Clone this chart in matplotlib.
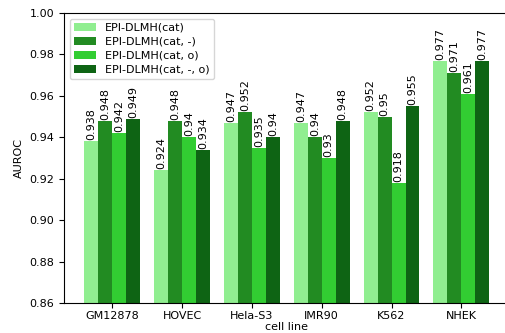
import numpy as np
import matplotlib
matplotlib.use("Agg")
import matplotlib.pyplot as plt

cell_lines = ["GM12878", "HOVEC", "Hela-S3", "IMR90", "K562", "NHEK"]
labels = ["EPI-DLMH(cat)", "EPI-DLMH(cat, -)", "EPI-DLMH(cat, o)", "EPI-DLMH(cat, -, o)"]
cat = [0.938, 0.924, 0.947, 0.947, 0.952, 0.977]
cat_minus = [0.948, 0.948, 0.952, 0.94, 0.95, 0.971]
cat_o = [0.942, 0.94, 0.935, 0.93, 0.918, 0.961]
cat_minus_o = [0.949, 0.934, 0.94, 0.948, 0.955, 0.977]
colors = ["#90ee90", "#228b22", "#32cd32", "#0e6414"]

series = [cat, cat_minus, cat_o, cat_minus_o]

fig = plt.figure(figsize=(5.05, 3.33), dpi=100)
ax = fig.add_axes([0.127, 0.09, 0.882, 0.871])

x = np.arange(len(cell_lines))
width = 0.2
for i in range(len(series)):
    bars = ax.bar(x + (i - 1.5) * width, series[i], width, color=colors[i],
                  label=labels[i])
    for b, v in zip(bars, series[i]):
        ax.text(b.get_x() + b.get_width() / 2, v + 0.0005, str(v),
                rotation=90, ha="center", va="bottom", fontsize=8)

ax.set_ylim(0.86, 1.0)
ax.set_yticks(np.arange(0.86, 1.001, 0.02))
ax.set_xticks(x)
ax.set_xticklabels(cell_lines)
ax.tick_params(labelsize=8)
ax.tick_params(axis="x", pad=2)
ax.spines["right"].set_visible(False)
ax.set_xlabel("cell line", fontsize=8, labelpad=1)
ax.set_ylabel("AUROC", fontsize=8)
ax.legend(loc="upper left", fontsize=8, labelspacing=0.35)

fig.savefig("out.png", dpi=100)
